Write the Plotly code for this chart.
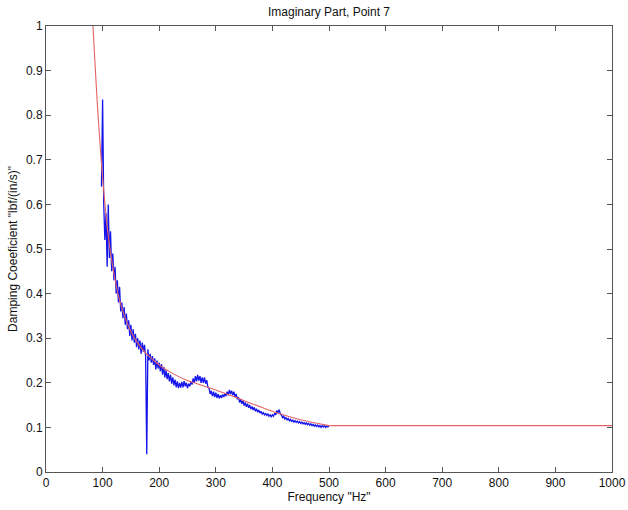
import plotly.graph_objects as go

# Measured damping coefficient (imaginary part), sampled every 2 Hz from 98 to 500 Hz
freq_meas = list(range(98, 502, 2))
damp_meas = [
    0.64, 0.835, 0.60, 0.52, 0.58, 0.46, 0.60, 0.48, 0.54, 0.45,
    0.49, 0.43, 0.46, 0.40, 0.43, 0.38, 0.415, 0.36, 0.38, 0.345,
    0.37, 0.33, 0.355, 0.32, 0.34, 0.305, 0.33, 0.295, 0.32, 0.29,
    0.31, 0.28, 0.30, 0.275, 0.295, 0.265, 0.29, 0.27, 0.285, 0.26,
    0.04, 0.275, 0.25, 0.265, 0.245, 0.26, 0.24, 0.255, 0.23, 0.25,
    0.232, 0.245, 0.226, 0.242, 0.218, 0.236, 0.212, 0.228, 0.208, 0.222,
    0.203, 0.218, 0.198, 0.212, 0.194, 0.207, 0.19, 0.203, 0.188, 0.2,
    0.189, 0.202, 0.19, 0.204, 0.192, 0.2, 0.188, 0.198, 0.192, 0.202,
    0.196, 0.21, 0.20, 0.215, 0.203, 0.218, 0.205, 0.215, 0.20, 0.212,
    0.20, 0.212, 0.198, 0.206, 0.19, 0.188, 0.175, 0.182, 0.17, 0.18,
    0.168, 0.178, 0.166, 0.175, 0.165, 0.172, 0.166, 0.174, 0.168, 0.176,
    0.17, 0.18, 0.172, 0.184, 0.175, 0.182, 0.172, 0.18, 0.168, 0.175,
    0.163, 0.168, 0.156, 0.163, 0.153, 0.16, 0.149, 0.156, 0.146, 0.153,
    0.144, 0.15, 0.141, 0.147, 0.139, 0.145, 0.136, 0.142, 0.134, 0.139,
    0.132, 0.136, 0.13, 0.133, 0.128, 0.131, 0.127, 0.13, 0.125, 0.128,
    0.124, 0.128, 0.125, 0.132, 0.128, 0.138, 0.132, 0.14, 0.13, 0.128,
    0.122, 0.125, 0.119, 0.122, 0.117, 0.12, 0.115, 0.118, 0.113, 0.117,
    0.112, 0.115, 0.111, 0.114, 0.11, 0.113, 0.109, 0.112, 0.108, 0.111,
    0.107, 0.11, 0.106, 0.109, 0.105, 0.108, 0.104, 0.107, 0.103, 0.106,
    0.102, 0.105, 0.101, 0.104, 0.10, 0.104, 0.101, 0.104, 0.10, 0.103,
    0.101, 0.103,
]

# Fitted damping curve: decaying part up to 500 Hz, then constant
freq_fit = [80, 83, 90, 100, 110, 120, 130, 140, 150, 160, 175, 200, 225,
            250, 300, 350, 400, 450, 500]
damp_fit = [1.06, 1.0, 0.84, 0.66, 0.53, 0.445, 0.385, 0.345, 0.315, 0.293,
            0.268, 0.24, 0.22, 0.205, 0.184, 0.16, 0.136, 0.117, 0.104]
freq_flat = [500, 1000]
damp_flat = [0.104, 0.104]

x_ticks = list(range(0, 1100, 100))
y_ticks = [0, 0.1, 0.2, 0.3, 0.4, 0.5, 0.6, 0.7, 0.8, 0.9, 1]
y_tick_text = ["0", "0.1", "0.2", "0.3", "0.4", "0.5", "0.6", "0.7", "0.8", "0.9", "1"]

FONT = "Liberation Sans, Arial"
RED = "rgb(226,100,100)"

fig = go.Figure()
fig.add_trace(go.Scatter(
    x=freq_meas, y=damp_meas, mode="lines",
    line=dict(color="rgb(20,20,235)", width=1.3),
    showlegend=False,
))
fig.add_trace(go.Scatter(
    x=freq_fit, y=damp_fit, mode="lines",
    line=dict(color=RED, width=1.1, shape="spline", smoothing=0.8),
    showlegend=False,
))
fig.add_trace(go.Scatter(
    x=freq_flat, y=damp_flat, mode="lines",
    line=dict(color=RED, width=1.1),
    showlegend=False,
))

axis_common = dict(
    showgrid=False, zeroline=False, showline=True, linecolor="#555555",
    linewidth=1, mirror="ticks", ticks="inside", ticklen=5, automargin=False,
    tickcolor="#555555", tickfont=dict(family=FONT, size=12, color="#111111"),
)

fig.update_layout(
    width=628, height=510,
    margin=dict(l=46, r=16, t=26, b=38),
    paper_bgcolor="white", plot_bgcolor="white",
    title=dict(text="Imaginary Part, Point 7", x=0.5, xref="paper",
               y=0.985, yref="container", yanchor="top",
               font=dict(family=FONT, size=12, color="#111111")),
    xaxis=dict(range=[0, 1000], tickvals=x_ticks,
               title=dict(text='Frequency "Hz"', standoff=3,
                          font=dict(family=FONT, size=12, color="#111111")),
               **axis_common),
    yaxis=dict(range=[0, 1], tickvals=y_ticks, ticktext=y_tick_text,
               title=dict(text='Damping Coeeficient "lbf/(in/s)"', standoff=5,
                          font=dict(family=FONT, size=12, color="#111111")),
               **axis_common),
)

fig.write_html("out.html")
